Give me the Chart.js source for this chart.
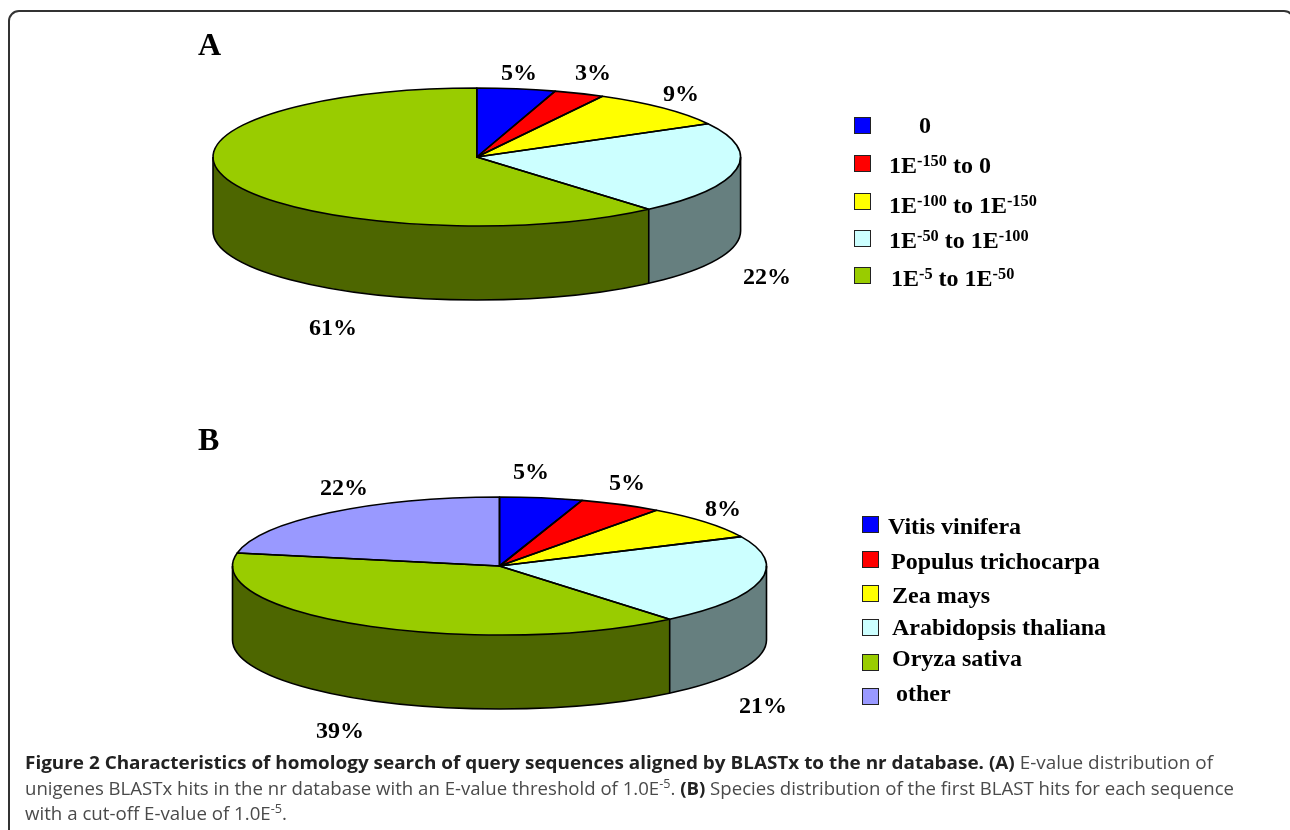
<!DOCTYPE html>
<html><head><meta charset="utf-8">
<script src="https://cdn.jsdelivr.net/npm/chart.js@4"></script>
<style>
html,body{margin:0;padding:0;background:#fff;width:1290px;height:830px;overflow:hidden}
canvas{position:absolute;left:0;top:0}
#frame{position:absolute;left:8px;top:9.5px;width:1287px;height:900px;border:2px solid #333;border-radius:11px;box-sizing:border-box}
.t{position:absolute;line-height:0;white-space:nowrap;font-family:"Liberation Serif",serif;font-weight:bold;color:#000}
.t sup{font-size:.68em;line-height:0;vertical-align:baseline;position:relative;top:-.42em}
.sw{position:absolute;box-sizing:border-box;border:1.5px solid #222;width:17px;height:17px}
.c{position:absolute;line-height:0;white-space:nowrap;font-family:"Open Sans",sans-serif;font-size:18.6px;color:#4a4a4a;transform-origin:0 0}
.c b{color:#222;font-weight:700}
.c sup{font-size:.68em;line-height:0;vertical-align:baseline;position:relative;top:-.5em}
</style></head><body>
<div id="frame"></div>
<div style="position:absolute;left:0;top:0;width:1290px;height:830px;overflow:hidden">
<canvas id="pieA" width="1290" height="830"></canvas>
<canvas id="pieB" width="1290" height="830"></canvas>
</div>
<div id="overlay"></div>
<script>
const categoriesA = ['0','1E-150 to 0','1E-100 to 1E-150','1E-50 to 1E-100','1E-5 to 1E-50'];
const valuesA = [4.8,3.1,9.1,21.7,61.3];
const legendTextA = ['0','1E<sup>-150</sup> to 0','1E<sup>-100</sup> to 1E<sup>-150</sup>','1E<sup>-50</sup> to 1E<sup>-100</sup>','1E<sup>-5</sup> to 1E<sup>-50</sup>'];
const categoriesB = ['Vitis vinifera','Populus trichocarpa','Zea mays','Arabidopsis thaliana','Oryza sativa','other'];
const valuesB = [5,5,8,21,39,22];
const topColors = ['#0000ff','#ff0000','#ffff00','#ccffff','#99cc00','#9999ff'];
const wallColors = ['#000080','#800000','#808000','#667f7f','#4d6600','#4d4d80'];

const layoutA = {cx:476.8, cy:157, rx:263.8, ry:69, depth:74};
const layoutB = {cx:499.5, cy:566, rx:267, ry:69, depth:74};
const W = 1290, H = 830;

const tilt = {
  id:'tilt',
  beforeDatasetsDraw(chart, args, o){
    const ctx = chart.ctx, arcs = chart.getDatasetMeta(0).data;
    const {cx,cy,rx,ry,depth} = o;
    const front = arcs.map(a=>({s:Math.max(a.startAngle,0), e:Math.min(a.endAngle,Math.PI)}));
    ctx.save();
    front.forEach((f,i)=>{
      if(f.e<=f.s) return;
      ctx.beginPath();
      ctx.ellipse(cx,cy,rx,ry,0,f.s,f.e);
      ctx.ellipse(cx,cy+depth,rx,ry,0,f.e,f.s,true);
      ctx.closePath();
      ctx.fillStyle = wallColors[i];
      ctx.fill();
    });
    ctx.restore();
    ctx.save();
    const a0 = arcs[0];
    ctx.translate(cx,cy); ctx.scale(1,ry/rx); ctx.translate(-a0.x,-a0.y);
  },
  afterDatasetsDraw(chart, args, o){
    const ctx = chart.ctx, arcs = chart.getDatasetMeta(0).data;
    ctx.restore();
    const {cx,cy,rx,ry,depth} = o;
    ctx.save();
    ctx.strokeStyle = '#000'; ctx.lineWidth = 1.6; ctx.lineJoin='round';
    arcs.forEach(a=>{
      ctx.beginPath();
      ctx.moveTo(cx,cy);
      ctx.ellipse(cx,cy,rx,ry,0,a.startAngle,a.endAngle);
      ctx.closePath();
      ctx.stroke();
      if(a.endAngle>0 && a.endAngle<Math.PI){
        const x=cx+rx*Math.cos(a.endAngle), y=cy+ry*Math.sin(a.endAngle);
        ctx.beginPath(); ctx.moveTo(x,y); ctx.lineTo(x,y+depth); ctx.stroke();
      }
    });
    ctx.beginPath();
    ctx.moveTo(cx+rx,cy); ctx.lineTo(cx+rx,cy+depth);
    ctx.ellipse(cx,cy+depth,rx,ry,0,0,Math.PI);
    ctx.lineTo(cx-rx,cy);
    ctx.stroke();
    ctx.restore();
  }
};

function makePie(id,labels,values,l){
  return new Chart(document.getElementById(id),{
    type:'pie',
    data:{labels,datasets:[{data:values,backgroundColor:topColors.slice(0,values.length),borderWidth:0,clip:false}]},
    options:{
      responsive:false,animation:false,
      events:[],
      layout:{padding:{left:l.cx-l.rx,right:W-l.cx-l.rx,top:H/2-l.rx,bottom:H/2-l.rx}},
      plugins:{legend:{display:false},tooltip:{enabled:false},tilt:l}
    },
    plugins:[tilt]
  });
}
makePie('pieA',categoriesA,valuesA,layoutA);
makePie('pieB',categoriesB,valuesB,layoutB);

const ov = document.getElementById('overlay');
function text(html,x,base,size){
  const d=document.createElement('div');d.className='t';d.innerHTML=html;
  d.style.left=x+'px';d.style.top=(base-0.3375*size)+'px';d.style.fontSize=size+'px';ov.appendChild(d);return d;
}
function swatch(color,x,y){
  const d=document.createElement('div');d.className='sw';d.style.background=color;
  d.style.left=x+'px';d.style.top=y+'px';ov.appendChild(d);
}
text('A',198,55,32);text('B',198,450,32);
const pctPosA=[[501,80],[575,80],[663,101],[743,284],[309,335]];
valuesA.forEach((v,i)=>text(Math.round(v)+'%',pctPosA[i][0],pctPosA[i][1],24));
const pctPosB=[[513,479],[609,490],[705,516],[739,713],[316,738],[320,495]];
valuesB.forEach((v,i)=>text(v+'%',pctPosB[i][0],pctPosB[i][1],24));

const legA=[[854,117,919,133],[854,155,889,173],[854,193,889,213],[854,230,889,248],[854,267,891,286]];
legendTextA.forEach((s,i)=>{swatch(topColors[i],legA[i][0],legA[i][1]);text(s,legA[i][2],legA[i][3],24);});
const legB=[[862,516,888,534],[862,551,891,569],[862,585,892,603],[862,619,892,635],[862,654,892,666],[862,688,896,701]];
categoriesB.forEach((s,i)=>{swatch(topColors[i],legB[i][0],legB[i][1]);text(s,legB[i][2],legB[i][3],24);});

const captionLines=[
 ['<b>Figure 2 Characteristics of homology search of query sequences aligned by BLASTx to the nr database. (A)</b> E-value distribution of',25,769,1188],
 ['unigenes BLASTx hits in the nr database with an E-value threshold of 1.0E<sup>-5</sup>. <b>(B)</b> Species distribution of the first BLAST hits for each sequence',25,795,1209],
 ['with a cut-off E-value of 1.0E<sup>-5</sup>.',25,820,262]
];
captionLines.forEach(([h,x,b,w])=>{
  const d=document.createElement('div');d.className='c';d.innerHTML=h;
  d.style.left=x+'px';d.style.top=(b-0.388*18.6)+'px';ov.appendChild(d);
  d.style.transform='scaleX('+(w/d.getBoundingClientRect().width)+')';
});
</script>
</body></html>
